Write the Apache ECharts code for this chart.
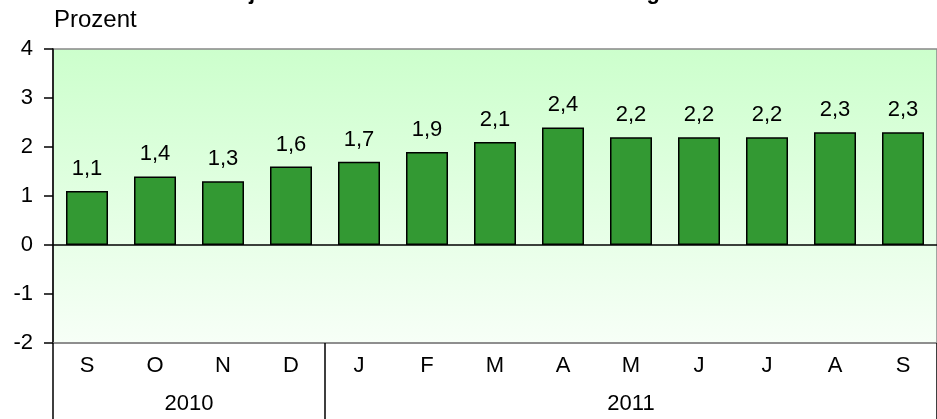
<!DOCTYPE html>
<html>
<head>
<meta charset="utf-8">
<script src="https://cdn.jsdelivr.net/npm/echarts@6/dist/echarts.min.js"></script>
<style>
html,body{margin:0;padding:0;background:#fff;}
#chart{width:937px;height:419px;}
</style>
</head>
<body>
<div id="chart"></div>
<script>
var titleText = 'Vorjahresmonatsrate der Preisentwicklung';
var unitLabel = 'Prozent';
var months = ['S','O','N','D','J','F','M','A','M','J','J','A','S'];
var values = [1.1,1.4,1.3,1.6,1.7,1.9,2.1,2.4,2.2,2.2,2.2,2.3,2.3];
var years = ['2010','2011'];
var yearMonthCounts = [4,9];
var yTicks = [-2,-1,0,1,2,3,4];

var FONT = '"Liberation Sans", Arial, sans-serif';

var bounds = [0], centers = [], acc = 0;
yearMonthCounts.forEach(function(c){ centers.push(acc + c/2); acc += c; bounds.push(acc); });

var chart = echarts.init(document.getElementById('chart'), null, {renderer:'canvas'});
chart.setOption({
  animation:false,
  title:{
    text:titleText, left:432, top:-23, textAlign:'center',
    textStyle:{fontFamily:FONT, fontSize:22, fontWeight:'bold', color:'#000'}
  },
  graphic:[{
    type:'text', left:54, top:8,
    style:{text:unitLabel, font:'24px '+FONT, fill:'#000'}
  }],
  grid:{
    left:53, top:49, width:892, height:294, containLabel:false,
    show:true, borderColor:'#888', borderWidth:1.5,
    backgroundColor:{type:'linear', x:0, y:0, x2:0, y2:1,
      colorStops:[{offset:0,color:'#ccffcc'},{offset:1,color:'#f7fff7'}]}
  },
  xAxis:[{
    type:'category', data:months, position:'bottom',
    axisLine:{show:true, onZero:false, lineStyle:{color:'#888', width:1.5}},
    axisTick:{show:false},
    axisLabel:{fontFamily:FONT, fontSize:22, color:'#000', margin:12, interval:0},
    splitLine:{show:false}
  },{
    type:'value', min:0, max:months.length, position:'bottom',
    axisLine:{show:false, onZero:false},
    axisTick:{show:true, customValues:bounds, length:80, lineStyle:{color:'#000', width:1.5}},
    axisLabel:{customValues:centers, fontFamily:FONT, fontSize:22, color:'#000', margin:50,
      formatter:function(v){ for(var i=0;i<centers.length;i++){ if(Math.abs(centers[i]-v)<1e-6) return years[i]; } return ''; }},
    splitLine:{show:false}
  }],
  yAxis:{
    type:'value', min:yTicks[0], max:yTicks[yTicks.length-1], interval:1,
    axisLine:{show:true, lineStyle:{color:'#000', width:1.5}},
    axisTick:{show:true, length:9, lineStyle:{color:'#000', width:1.5}},
    axisLabel:{fontFamily:FONT, fontSize:22, color:'#000', margin:20},
    splitLine:{show:false}
  },
  series:[{
    type:'bar', data:values, xAxisIndex:0, barWidth:42,
    itemStyle:{color:'#339933', borderColor:'#000', borderWidth:1.5},
    label:{show:true, position:'top', distance:11, fontFamily:FONT, fontSize:22, color:'#000',
      formatter:function(p){ return String(p.value).replace('.',','); }},
    markLine:{silent:true, symbol:'none', label:{show:false},
      lineStyle:{color:'#000', width:1.5, type:'solid'}, data:[{yAxis:0}]}
  }]
});
</script>
</body>
</html>
